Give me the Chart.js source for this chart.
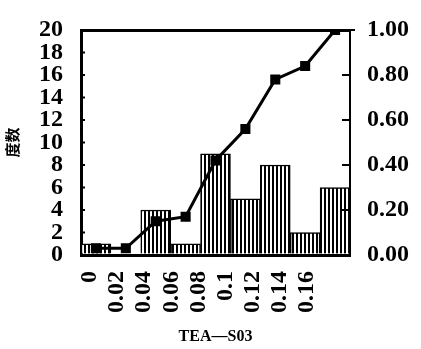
<!DOCTYPE html>
<html>
<head>
<meta charset="utf-8">
<style>
  html, body { margin: 0; padding: 0; background: #fff; }
  #wrap { width: 421px; height: 349px; }
</style>
</head>
<body>
<div id="wrap"><canvas id="myChart"></canvas></div>

<script src="https://cdn.jsdelivr.net/npm/chart.js"></script>
<script>
  // data
  const categories = ['0', '0.02', '0.04', '0.06', '0.08', '0.1', '0.12', '0.14', '0.16'];
  const counts = [1, 0, 4, 1, 9, 5, 8, 2, 6];
  const cumulative = [0.03, 0.03, 0.15, 0.17, 0.42, 0.56, 0.78, 0.84, 1.00];
  const countTicks = [0, 2, 4, 6, 8, 10, 12, 14, 16, 18, 20];
  const ratioTicks = [0, 0.2, 0.4, 0.6, 0.8, 1.0];

  const serif = { family: 'Liberation Serif', weight: 'bold', size: 24, lineHeight: 1 };

  // vertical hatching for the bars
  const pc = document.createElement('canvas');
  pc.width = 4; pc.height = 4;
  const pctx = pc.getContext('2d');
  pctx.fillStyle = '#fff';
  pctx.fillRect(0, 0, 4, 4);
  pctx.fillStyle = '#000';
  pctx.fillRect(0, 0, 2, 4);
  const hatch = pctx.createPattern(pc, 'repeat');

  // short tick marks pointing into the plot
  const innerTicks = {
    id: 'innerTicks',
    afterDraw(chart) {
      const { ctx, chartArea, scales } = chart;
      ctx.save();
      ctx.strokeStyle = '#000';
      ctx.lineWidth = 2;
      countTicks.forEach(function (v) {
        const y = scales.y.getPixelForValue(v);
        ctx.beginPath();
        ctx.moveTo(chartArea.left, y);
        ctx.lineTo(chartArea.left + 4, y);
        ctx.stroke();
      });
      ratioTicks.forEach(function (v) {
        const y = scales.y1.getPixelForValue(v);
        ctx.beginPath();
        ctx.moveTo(chartArea.right - 8, y);
        ctx.lineTo(chartArea.right + (v === 1 ? 5 : 0), y);
        ctx.stroke();
      });
      ctx.restore();
    }
  };

  const ctx = document.getElementById('myChart');

  new Chart(ctx, {
    type: 'bar',
    data: {
      labels: categories,
      datasets: [{
        type: 'line',
        label: '累積',
        data: cumulative,
        xAxisID: 'x',
        yAxisID: 'y1',
        borderColor: '#000',
        borderWidth: 3,
        pointStyle: 'rect',
        pointRadius: 5,
        pointBackgroundColor: '#000',
        pointBorderColor: '#000',
        tension: 0,
        order: 0
      }, {
        type: 'bar',
        label: '度数',
        data: counts,
        xAxisID: 'x',
        yAxisID: 'y',
        backgroundColor: hatch,
        borderColor: '#000',
        borderWidth: 1.5,
        categoryPercentage: 1,
        barPercentage: 1,
        order: 1
      }]
    },
    plugins: [innerTicks],
    options: {
      responsive: true,
      maintainAspectRatio: false,
      animation: false,
      layout: { padding: { top: 20, left: 0, right: 0, bottom: 0 } },
      plugins: {
        legend: { display: false },
        tooltip: { enabled: false }
      },
      scales: {
        x: {
          type: 'category',
          display: false,
          offset: true
        },
        // labels sit a little left of the bars, like in the scan
        xt: {
          type: 'linear',
          position: 'bottom',
          offset: false,
          min: -0.00664,
          max: 0.19188,
          afterBuildTicks: function (s) {
            s.ticks = categories.map(function (c) { return { value: Number(c) }; });
          },
          afterFit: function (s) { s.height = 94; },
          ticks: {
            callback: function (v, i) { return categories[i]; },
            autoSkip: false,
            minRotation: 90,
            maxRotation: 90,
            padding: 16,
            color: '#000',
            font: serif
          },
          grid: { offset: false, drawOnChartArea: false, drawTicks: false },
          border: { color: '#000', width: 3 },
          title: {
            display: true,
            text: 'TEA—S03',
            color: '#000',
            font: { family: 'Liberation Serif', weight: 'bold', size: 16 },
            padding: { top: 0, bottom: 3 }
          }
        },
        y: {
          position: 'left',
          min: 0,
          max: 20,
          afterBuildTicks: function (s) {
            s.ticks = countTicks.map(function (v) { return { value: v }; });
          },
          afterFit: function (s) { s.width = 81; },
          ticks: {
            autoSkip: false,
            padding: 18,
            color: '#000',
            font: serif
          },
          grid: {
            drawTicks: false,
            lineWidth: 3,
            color: function (c) {
              return c.tick && c.tick.value === 20 ? '#000' : 'rgba(0,0,0,0)';
            }
          },
          border: { color: '#000', width: 3 },
          title: {
            display: true,
            text: '度数',
            color: '#000',
            font: { family: 'Noto Sans CJK SC', weight: 'bold', size: 15 },
            padding: { top: 3, bottom: 0 }
          }
        },
        y1: {
          position: 'right',
          min: 0,
          max: 1,
          afterBuildTicks: function (s) {
            s.ticks = ratioTicks.map(function (v) { return { value: v }; });
          },
          afterFit: function (s) { s.width = 71; },
          ticks: {
            autoSkip: false,
            padding: 17,
            color: '#000',
            font: serif,
            callback: function (v) { return v.toFixed(2); }
          },
          grid: { drawOnChartArea: false, drawTicks: false },
          border: { color: '#000', width: 2 }
        }
      }
    }
  });
</script>
</body>
</html>
